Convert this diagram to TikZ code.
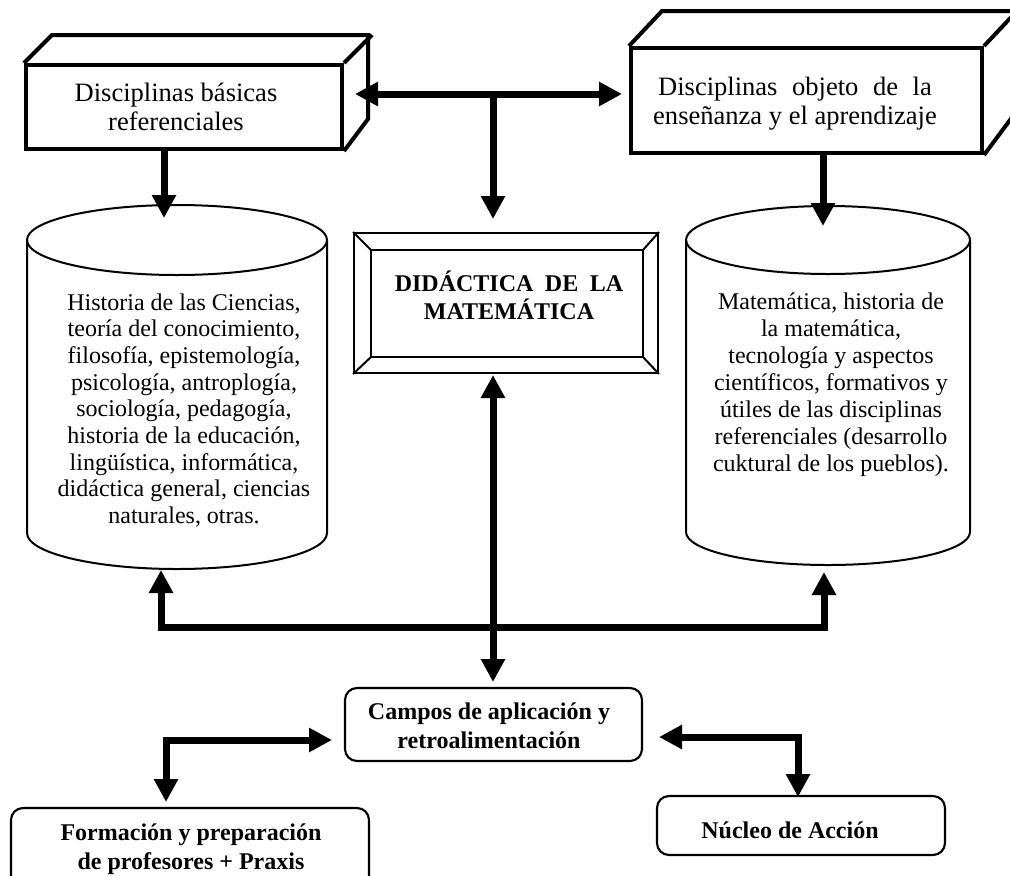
\documentclass[tikz,border=0pt]{standalone}
\usepackage{fontspec}
\setmainfont{Liberation Serif}
\usetikzlibrary{arrows.meta,calc}
% 1 unit = 0.75pt, y axis pointing down
\tikzset{
  body/.style={font=\fontsize{18pt}{20pt}\selectfont, align=center, inner sep=0pt},
  headtext/.style={font=\fontsize{19.9pt}{21.8pt}\selectfont, align=center, inner sep=0pt},
  boldtext/.style={font=\bfseries\fontsize{18pt}{21.5pt}\selectfont, align=center, inner sep=0pt},
  prism/.style={draw, line width=3pt, line join=miter},
  frontface/.style={prism, fill=white, inner sep=0pt},
  thinline/.style={draw, line width=1.5pt},
  roundbox/.style={draw, line width=1.6pt, rounded corners=9pt, inner sep=0pt},
  conn/.style={line width=5.25pt},
  >={Triangle[length=17.25pt,width=17.25pt]},
}
\begin{document}
\begin{tikzpicture}[x=0.75pt,y=-0.75pt]
\useasboundingbox (0,0) rectangle (1010,875);
\clip (0,0) rectangle (1010,875);

% ---- left prism: basic reference disciplines
\node[frontface, minimum width=237pt, minimum height=63pt] (lbox) at (184,107) {};
\draw[prism] (lbox.north west) -- ++(28,-28) -- ++(316,0) -- ++(0,84) -- (lbox.south east);
\draw[prism] (lbox.north east) -- ++(28,-28);
\node[headtext] (ltitle) at (176,107) {Disciplinas básicas\\referenciales};

% ---- right prism: disciplines being taught
\node[frontface, minimum width=263.25pt, minimum height=78.75pt] (rbox) at (806.5,100.5) {};
\draw[prism] (rbox.north west) -- ++(33,-35) -- ++(351,0) -- ++(0,105) -- (rbox.south east);
\draw[prism] (rbox.north east) -- ++(33,-35);
\node[headtext] (rtitle) at (795,104)
  {Disciplinas\hspace{0.3em} objeto\hspace{0.3em} de\hspace{0.3em} la\\enseñanza y el aprendizaje};

% ---- central bevelled frame
\node[thinline, minimum width=228pt, minimum height=105pt, inner sep=0pt] (dframe) at (506,303) {};
\coordinate (dnw) at ($(dframe.north west)+(18,18)$);
\coordinate (dse) at ($(dframe.south east)+(-16,-17)$);
\coordinate (dne) at (dse |- dnw);
\coordinate (dsw) at (dnw |- dse);
\draw[thinline] (dnw) rectangle (dse);
\draw[thinline] (dframe.north west) -- (dnw)
                (dframe.north east) -- (dne)
                (dframe.south east) -- (dse)
                (dframe.south west) -- (dsw);
\node[boldtext, font=\bfseries\fontsize{18pt}{21pt}\selectfont] (dtitle) at (509,295)
  {DIDÁCTICA\hspace{0.23em} DE\hspace{0.23em} LA\\MATEMÁTICA};

% ---- left cylinder
\draw[thinline] (27,240) -- (27,533) arc[start angle=180, end angle=0, x radius=150, y radius=36] -- (327,240);
\draw[thinline] (177,240) ellipse[x radius=150, y radius=35];
\node[body] (lcyl) at (184,410.5) {Historia de las Ciencias,\\teoría del conocimiento,\\filosofía, epistemología,\\psicología, antroplogía,\\sociología, pedagogía,\\historia de la educación,\\lingüística, informática,\\didáctica general, ciencias\\naturales, otras.};

% ---- right cylinder
\draw[thinline] (686,240) -- (686,532) arc[start angle=180, end angle=0, x radius=142, y radius=33] -- (970,240);
\draw[thinline] (828,240) ellipse[x radius=142, y radius=34];
\node[body, font=\fontsize{18pt}{20.25pt}\selectfont] (rcyl) at (831,384.5) {Matemática, historia de\\la matemática,\\tecnología y aspectos\\científicos, formativos y\\útiles de las disciplinas\\referenciales (desarrollo\\cuktural de los pueblos).};

% ---- lower boxes
\node[roundbox, minimum width=222.75pt, minimum height=54.75pt] (campos) at (493.5,724.5) {};
\node[boldtext] (campostext) at (489,726) {Campos de aplicación y\\retroalimentación};
\node[roundbox, minimum width=268.5pt, minimum height=67.5pt] (form) at (190,853) {};
\node[boldtext] (formtext) at (191,849) {Formación y preparación\\de profesores + Praxis};
\node[roundbox, minimum width=216pt, minimum height=44.25pt] (nucleo) at (801,825.5) {};
\node[boldtext] (nucleotext) at (790,830) {Núcleo de Acción};

% ---- connector end points
\coordinate (tl) at (355,94);
\coordinate (tr) at (622,94);
\coordinate (tm) at (493,94);
\coordinate (dtop) at (493,219);
\coordinate (lcyltop) at (164,218);
\coordinate (rcyltop) at (823,226);
\coordinate (dbot) at (493,375);
\coordinate (ctop) at (493,682);
\coordinate (lcylbot) at (161,570);
\coordinate (busl) at (161,627);
\coordinate (busr) at (824,627);
\coordinate (rcylbot) at (824,572);
\coordinate (cl) at (332,740);
\coordinate (ll) at (166,740);
\coordinate (fbtop) at (166,802);
\coordinate (cr) at (659,737);
\coordinate (rr) at (798,737);
\coordinate (nbtop) at (798,797);

% ---- connectors
\draw[conn,<->] (tl) -- (tr);
\draw[conn,->] (tm) -- (dtop);
\draw[conn,->] (lbox.south -| lcyltop) -- (lcyltop);
\draw[conn,->] (rbox.south -| rcyltop) -- (rcyltop);
\draw[conn,<->] (dbot) -- (ctop);
\draw[conn,<->] (lcylbot) -- (busl) -- (busr) -- (rcylbot);
\draw[conn,<->] (cl) -- (ll) -- (fbtop);
\draw[conn,<->] (cr) -- (rr) -- (nbtop);
\end{tikzpicture}
\end{document}
